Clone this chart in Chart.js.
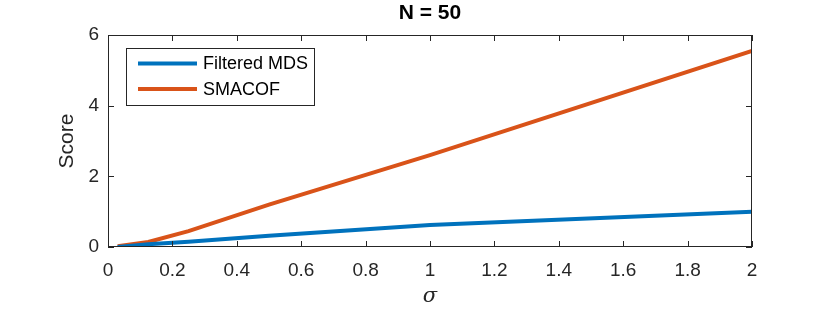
<!DOCTYPE html>
<html>
<head>
<meta charset="utf-8">
<script src="https://cdn.jsdelivr.net/npm/chart.js@4/dist/chart.umd.min.js"></script>
<style>
  html, body { margin: 0; padding: 0; background: #fff; }
  #wrap { width: 830px; height: 313px; }
</style>
</head>
<body>
<div id="wrap"><canvas id="scoreChart"></canvas></div>
<script>
var sigma = [0.03, 0.125, 0.25, 0.5, 1, 2];
var filteredMDS = [0.0, 0.08, 0.15, 0.32, 0.62, 1.0];
var smacof = [0.02, 0.14, 0.45, 1.2, 2.6, 5.55];
var xTicks = [0, 0.2, 0.4, 0.6, 0.8, 1, 1.2, 1.4, 1.6, 1.8, 2];
var yTicks = [0, 2, 4, 6];

var axisColor = '#262626';
var fontFam = '"Liberation Sans", Arial, sans-serif';

function toPoints(xs, ys) {
    return xs.map((x, i) => ({ x: x, y: ys[i] }));
}

// MATLAB-like box, inward ticks, title, axis labels and legend
var matlabLook = {
    id: 'matlabLook',
    afterDraw: function(chart) {
        var ctx = chart.ctx;
        var a = chart.chartArea;
        var xs = chart.scales.x, ys = chart.scales.y;
        ctx.save();
        ctx.strokeStyle = axisColor;
        ctx.lineWidth = 1;
        ctx.strokeRect(a.left + 0.5, a.top + 0.5, a.right - a.left - 1, a.bottom - a.top - 1);
        ctx.beginPath();
        xTicks.forEach(function(v) {
            var px = Math.round(xs.getPixelForValue(v)) + 0.5;
            ctx.moveTo(px, a.bottom); ctx.lineTo(px, a.bottom - 6);
            ctx.moveTo(px, a.top); ctx.lineTo(px, a.top + 6);
        });
        yTicks.forEach(function(v) {
            var py = Math.round(ys.getPixelForValue(v)) + 0.5;
            ctx.moveTo(a.left, py); ctx.lineTo(a.left + 6, py);
            ctx.moveTo(a.right, py); ctx.lineTo(a.right - 6, py);
        });
        ctx.stroke();

        // title
        ctx.fillStyle = '#000';
        ctx.textAlign = 'center';
        ctx.textBaseline = 'middle';
        ctx.font = 'bold 21px ' + fontFam;
        ctx.fillText('N = 50', (a.left + a.right) / 2, 13);

        // x label
        ctx.fillStyle = axisColor;
        ctx.font = 'italic 21px "DejaVu Serif", serif';
        ctx.fillText('σ', (a.left + a.right) / 2, 297);

        // y label
        ctx.save();
        ctx.translate(67, (a.top + a.bottom) / 2);
        ctx.rotate(-Math.PI / 2);
        ctx.font = '21px ' + fontFam;
        ctx.fillText('Score', 0, 0);
        ctx.restore();

        // legend
        var lx = 126, ly = 48, lw = 188, lh = 57;
        ctx.fillStyle = '#fff';
        ctx.fillRect(lx, ly, lw, lh);
        ctx.strokeStyle = axisColor;
        ctx.lineWidth = 1;
        ctx.strokeRect(lx + 0.5, ly + 0.5, lw, lh);
        ctx.font = '18px ' + fontFam;
        ctx.textAlign = 'left';
        chart.data.datasets.forEach(function(ds, i) {
            var yy = 63.5 + i * 25.5;
            ctx.strokeStyle = ds.borderColor;
            ctx.lineWidth = 4;
            ctx.beginPath();
            ctx.moveTo(138, yy); ctx.lineTo(197, yy);
            ctx.stroke();
            ctx.fillStyle = '#000';
            ctx.fillText(ds.label, 203, yy + 1);
        });
        ctx.restore();
    }
};

new Chart(document.getElementById('scoreChart'), {
    type: 'line',
    data: {
        datasets: [
            {
                label: 'Filtered MDS',
                data: toPoints(sigma, filteredMDS),
                borderColor: '#0072BD',
                borderWidth: 4,
                pointRadius: 0,
                fill: false
            },
            {
                label: 'SMACOF',
                data: toPoints(sigma, smacof),
                borderColor: '#D95319',
                borderWidth: 4,
                pointRadius: 0,
                fill: false
            }
        ]
    },
    options: {
        responsive: true,
        maintainAspectRatio: false,
        animation: false,
        layout: { padding: { top: 35, right: 78, left: 0, bottom: 0 } },
        plugins: {
            legend: { display: false },
            title: { display: false },
            tooltip: { enabled: false }
        },
        scales: {
            x: {
                type: 'linear',
                min: 0,
                max: 2,
                afterBuildTicks: function(scale) {
                    scale.ticks = xTicks.map(v => ({ value: v }));
                },
                afterFit: function(scale) { scale.height = 66; },
                grid: { display: false, drawTicks: false },
                border: { display: false },
                ticks: {
                    color: axisColor,
                    font: { family: fontFam, size: 19 },
                    padding: 12,
                    maxRotation: 0,
                    callback: v => String(Math.round(v * 10) / 10)
                }
            },
            y: {
                type: 'linear',
                min: 0,
                max: 6,
                afterBuildTicks: function(scale) {
                    scale.ticks = yTicks.map(v => ({ value: v }));
                },
                afterFit: function(scale) { scale.width = 108; },
                grid: { display: false, drawTicks: false },
                border: { display: false },
                ticks: {
                    color: axisColor,
                    font: { family: fontFam, size: 19 },
                    padding: 9,
                    callback: v => String(v)
                }
            }
        }
    },
    plugins: [matlabLook]
});
</script>
</body>
</html>
